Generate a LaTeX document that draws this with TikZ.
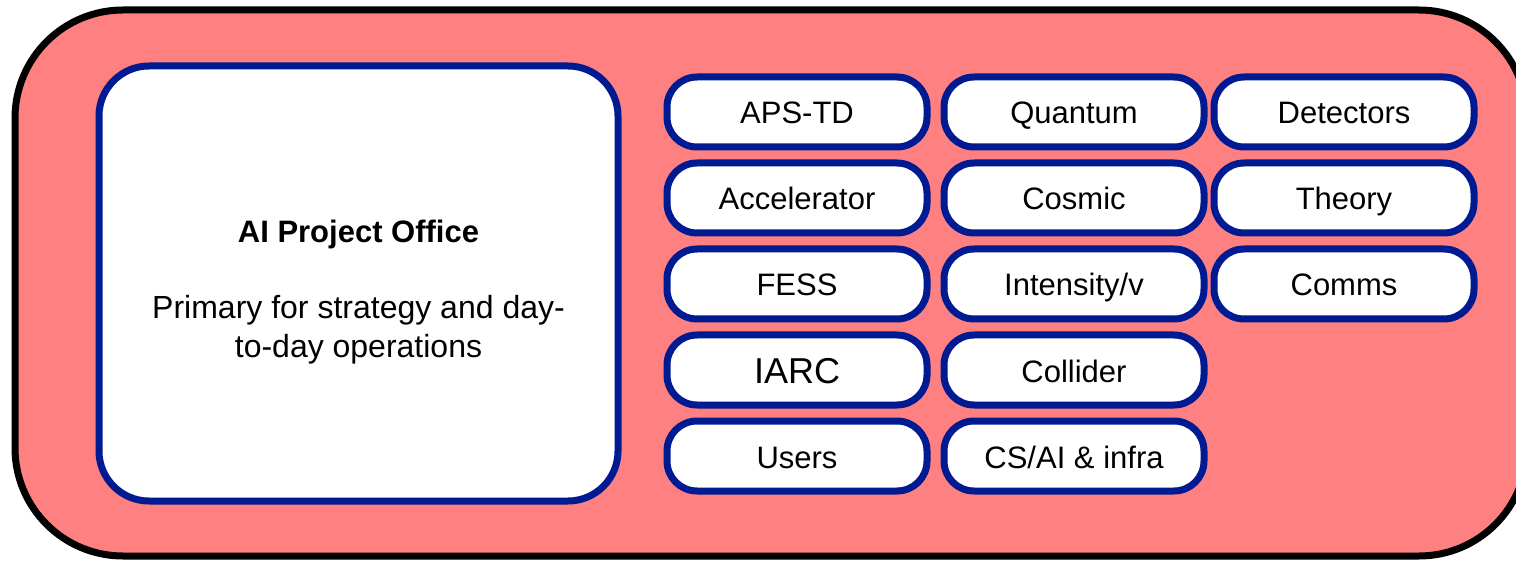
\documentclass[tikz,border=0pt]{standalone}
\usepackage{fontspec}
\setmainfont{Liberation Sans}
\usepackage{tikz}
\usetikzlibrary{positioning}
\definecolor{ponavy}{RGB}{0,26,146}
\definecolor{posalmon}{RGB}{255,128,128}
\tikzstyle{framebox} = [rounded corners=108pt, draw=black, fill=posalmon, line width=7pt]
\tikzstyle{officebox} = [rectangle, rounded corners=50pt, minimum width=519pt, minimum height=435pt, draw=ponavy, fill=white, line width=7pt]
\tikzstyle{officetext} = [text centered, align=center, font=\fontsize{32}{39}\selectfont]
\tikzstyle{unitbox} = [rectangle, rounded corners=30pt, minimum width=260pt, minimum height=70pt, text height=24pt, text depth=0pt, text centered, draw=ponavy, fill=white, line width=7pt, font=\fontsize{31}{37}\selectfont]

\begin{document}
\begin{tikzpicture}[x=1pt, y=-1pt, node distance=9pt]
\useasboundingbox (0,0) rectangle (1516,561);
% Frame
\draw[framebox] (15,10) rectangle (1527,556);
\node[officebox] (office) at (358.5,283.5) {};
\node[officetext] (officelabel) at (358.5,292) {{\bfseries\fontsize{31}{37}\selectfont AI Project Office}\\[37pt]Primary for strategy and day-\\to-day operations};

% Units
\node[unitbox] (apstd) at (797,112) {APS-TD};
\node[unitbox, right=10pt of apstd] (quantum) {Quantum};
\node[unitbox, right=3pt of quantum] (detectors) {Detectors};
\node[unitbox, below=of apstd] (accel) {Accelerator};
\node[unitbox, below=of quantum] (cosmic) {Cosmic};
\node[unitbox, below=of detectors] (theory) {Theory};
\node[unitbox, below=of accel] (fess) {FESS};
\node[unitbox, below=of cosmic] (intensity) {Intensity/v};
\node[unitbox, below=of theory] (comms) {Comms};
\node[unitbox, below=of fess, font=\fontsize{36}{43}\selectfont, text height=27pt] (iarc) {IARC};
\node[unitbox, below=of intensity] (collider) {Collider};
\node[unitbox, below=of iarc] (users) {Users};
\node[unitbox, below=of collider] (csai) {CS/AI \& infra};
\end{tikzpicture}
\end{document}
